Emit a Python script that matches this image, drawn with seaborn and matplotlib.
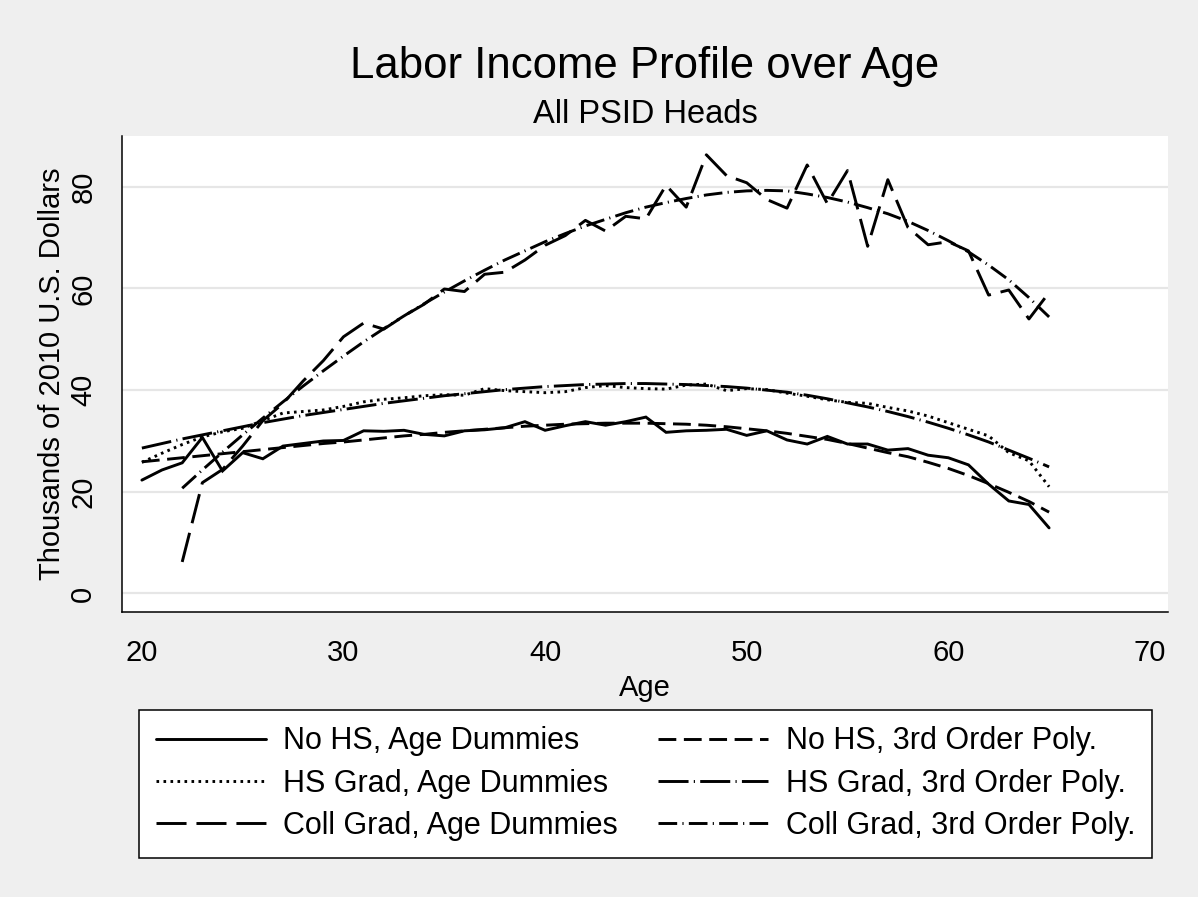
import matplotlib
matplotlib.use("Agg")
import matplotlib.pyplot as plt
import pandas as pd
import seaborn as sns

# ---------------- data ----------------
ages_all = list(range(20, 66))
ages_coll = list(range(22, 66))

nohs_dummies = [22.3, 24.3, 25.7, 30.7, 24.1, 27.7, 26.5, 29.0, 29.5, 30.0,
                30.1, 32.0, 31.9, 32.1, 31.3, 31.0, 32.0, 32.2, 32.6, 33.8,
                32.1, 33.0, 33.8, 33.1, 33.8, 34.7, 31.7, 32.0, 32.1, 32.3,
                31.1, 32.0, 30.2, 29.4, 30.9, 29.4, 29.4, 28.2, 28.5, 27.2,
                26.7, 25.3, 21.5, 18.2, 17.5, 12.9]
nohs_poly = [25.9, 26.3, 26.7, 27.1, 27.5, 27.9, 28.3, 28.7, 29.1, 29.5,
             29.8, 30.2, 30.6, 31.0, 31.3, 31.7, 32.0, 32.3, 32.6, 32.9,
             33.1, 33.3, 33.4, 33.5, 33.5, 33.5, 33.4, 33.3, 33.1, 32.8,
             32.4, 32.0, 31.5, 30.9, 30.3, 29.5, 28.6, 27.7, 26.9, 25.8,
             24.6, 23.2, 21.6, 19.9, 18.1, 16.0]
hs_dummies = [25.8, 27.6, 29.3, 30.8, 31.8, 32.5, 34.0, 35.5, 35.8, 36.1,
              36.8, 37.7, 38.2, 38.5, 38.9, 39.1, 39.0, 40.3, 39.9, 39.7,
              39.5, 39.7, 40.5, 40.9, 40.5, 40.3, 40.2, 41.0, 41.2, 39.9,
              40.3, 40.1, 39.4, 38.8, 38.1, 37.6, 37.4, 36.6, 35.9, 34.9,
              33.6, 32.3, 31.0, 27.7, 26.1, 21.0]
hs_poly = [28.6, 29.5, 30.4, 31.2, 32.0, 32.8, 33.6, 34.3, 35.0, 35.6,
           36.2, 36.8, 37.4, 37.9, 38.4, 38.9, 39.3, 39.7, 40.1, 40.4,
           40.7, 40.9, 41.1, 41.2, 41.3, 41.3, 41.2, 41.1, 40.9, 40.7,
           40.4, 40.0, 39.6, 39.0, 38.3, 37.5, 36.7, 35.8, 34.8, 33.7,
           32.5, 31.2, 29.8, 28.2, 26.6, 24.9]
coll_dummies = [6.2, 21.8, 24.4, 29.0, 34.0, 37.4, 41.8, 45.8, 50.5, 53.2,
                52.0, 54.6, 56.9, 59.9, 59.4, 62.8, 63.2, 65.6, 68.5, 70.4,
                73.4, 71.3, 74.2, 73.7, 80.3, 76.0, 86.3, 82.2, 80.8, 77.5,
                75.8, 84.3, 76.7, 83.2, 68.3, 81.4, 72.0, 68.6, 69.2, 67.4,
                58.7, 59.7, 54.0, 59.2]
coll_poly = [20.7, 24.3, 27.8, 31.2, 34.5, 37.7, 40.8, 43.8, 46.7, 49.5,
             52.1, 54.6, 57.0, 59.3, 61.5, 63.6, 65.6, 67.4, 69.2, 70.8,
             72.3, 73.6, 74.9, 76.0, 76.9, 77.7, 78.4, 78.9, 79.2, 79.3,
             79.2, 78.6, 77.9, 77.0, 75.9, 74.7, 73.2, 71.4, 69.4, 67.2,
             64.6, 61.7, 58.2, 54.4]

labels = ["No HS, Age Dummies", "HS Grad, Age Dummies", "Coll Grad, Age Dummies",
          "No HS, 3rd Order Poly.", "HS Grad, 3rd Order Poly.", "Coll Grad, 3rd Order Poly."]
x_ticks = [20, 30, 40, 50, 60, 70]
y_ticks = [0, 20, 40, 60, 80]

series = [
    (ages_all, nohs_dummies, labels[0], "-"),
    (ages_all, hs_dummies, labels[1], (0, (0.9, 1.5))),
    (ages_coll, coll_dummies, labels[2], (0, (10.3, 3.4))),
    (ages_all, nohs_poly, labels[3], (0, (6.1, 2.6))),
    (ages_all, hs_poly, labels[4], (0, (10.3, 1.8, 0.4, 1.8))),
    (ages_coll, coll_poly, labels[5], (0, (6.4, 1.8, 0.4, 1.8))),
]

# ---------------- style ----------------
sns.set_style("white")
plt.rcParams["font.family"] = ["Liberation Sans", "DejaVu Sans"]
plt.rcParams["text.color"] = "black"
plt.rcParams["axes.labelcolor"] = "black"
plt.rcParams["xtick.color"] = "black"
plt.rcParams["ytick.color"] = "black"
BG = "#efefef"

fig = plt.figure(figsize=(11.98, 8.97), dpi=100, facecolor=BG)
ax = fig.add_axes([0.1016, 0.3177, 0.8734, 0.5307])
ax.set_facecolor("white")

lw = 2.1
handles = []
for xs, ys, lab, ls in series:
    df = pd.DataFrame({"age": xs, "val": ys})
    sns.lineplot(data=df, x="age", y="val", ax=ax, color="black",
                 linewidth=lw, linestyle=ls, estimator=None, label=lab,
                 legend=False)
    ln = ax.get_lines()[-1]
    ln.set_dash_capstyle("butt")
    ln.set_solid_joinstyle("miter")
    handles.append(ln)

ax.set_xlim(19.0, 70.9)
ax.set_ylim(-3.65, 90.0)
ax.set_xticks(x_ticks)
ax.set_yticks(y_ticks)
ax.set_yticklabels([str(v) for v in y_ticks], rotation=90, va="center")
ax.grid(axis="y", color="#e6e6e6", linewidth=1.6)
ax.grid(axis="x", visible=False)
ax.set_axisbelow(True)

for s in ["top", "right"]:
    ax.spines[s].set_visible(False)
for s in ["left", "bottom"]:
    ax.spines[s].set_color("black")
    ax.spines[s].set_linewidth(1.1)

ax.tick_params(axis="both", direction="out", length=8.6, width=1.1,
               color="black", labelsize=21, labelcolor="black")
ax.tick_params(axis="x", pad=11)
ax.tick_params(axis="y", pad=9)

ax.set_xlabel("Age", fontsize=21, labelpad=5)
ax.set_ylabel("Thousands of 2010 U.S. Dollars", fontsize=21, labelpad=2.5)

fig.text(0.5384, 1 - 78 / 897, "Labor Income Profile over Age", fontsize=31.5,
         ha="center", va="baseline")
fig.text(0.5384, 1 - 123 / 897, "All PSID Heads", fontsize=23.5,
         ha="center", va="baseline")

leg = fig.legend(handles=handles, labels=labels, ncol=2,
                 loc="center", bbox_to_anchor=(0.5388, 0.1265),
                 fontsize=22, frameon=True, fancybox=False, shadow=False,
                 framealpha=1, facecolor="white", edgecolor="black",
                 handlelength=3.6, handletextpad=0.58, columnspacing=1.3,
                 labelspacing=0.4, borderpad=0.55)
leg.get_frame().set_linewidth(1.1)

fig.savefig("out.png", dpi=100, facecolor=BG)
